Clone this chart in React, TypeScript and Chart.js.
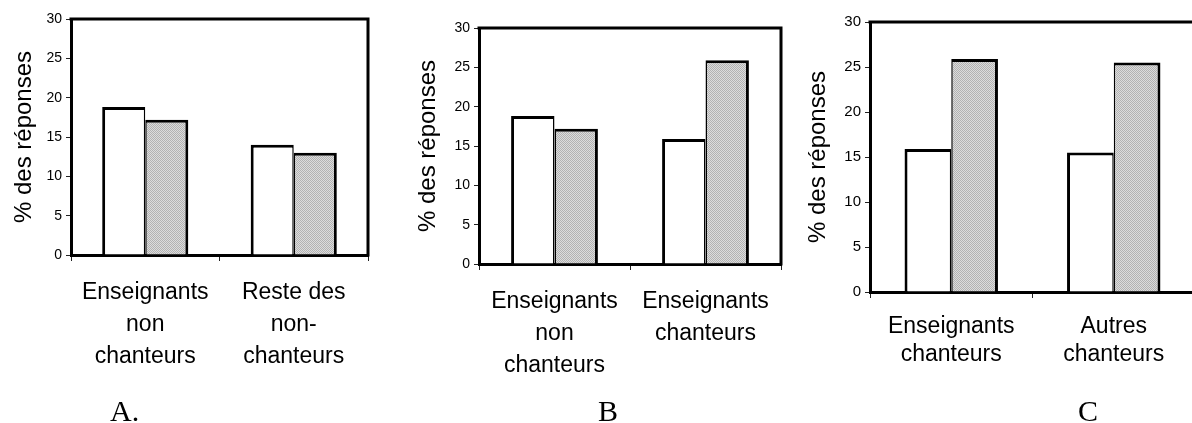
import React, { useEffect, useRef } from "react";
import { Chart, registerables } from "chart.js";

Chart.register(...registerables);

// ---------- data ----------
const labelsA = [["Enseignants", "non", "chanteurs"], ["Reste des", "non-", "chanteurs"]];
const whiteA = [18.8, 14.0];
const greyA = [17.2, 13.0];

const labelsB = [["Enseignants", "non", "chanteurs"], ["Enseignants", "chanteurs"]];
const whiteB = [18.8, 15.9];
const greyB = [17.2, 25.9];

const labelsC = [["Enseignants", "chanteurs"], ["Autres", "chanteurs"]];
const whiteC = [15.9, 15.5];
const greyC = [25.9, 25.5];

const yMin = 0;
const yMax = 30;
const yStep = 5;
const yTitle = "% des réponses";
const captions = ["A.", "B", "C"];

// ---------- layout / style ----------
const SANS = "'Liberation Sans', Arial, sans-serif";
const SERIF = "'Liberation Serif', 'Times New Roman', serif";

type Cfg = {
  left: number; width: number; height: number; yw: number;
  top: number; bottom: number; right: number; titlePad: number;
  tickFont: number; lh: number; labelPad: number; catPct: number;
};

const cfgA: Cfg = { left: 0, width: 385, height: 423, yw: 71, top: 19, bottom: 255, right: 368, titlePad: 10, tickFont: 14, lh: 31.7 / 23, labelPad: 16, catPct: 0.58 };
const cfgB: Cfg = { left: 400, width: 395, height: 423, yw: 79, top: 28, bottom: 264, right: 781, titlePad: 14, tickFont: 14, lh: 31.7 / 23, labelPad: 16, catPct: 0.575 };
const cfgC: Cfg = { left: 790, width: 410, height: 423, yw: 80, top: 22, bottom: 292, right: 1195, titlePad: 14, tickFont: 15, lh: 28.5 / 23, labelPad: 14, catPct: 0.575 };

function makePattern(): CanvasPattern | string {
  const c = document.createElement("canvas");
  c.width = 2;
  c.height = 2;
  const g = c.getContext("2d");
  if (!g) return "#c6c6c6";
  g.fillStyle = "#dcdcdc";
  g.fillRect(0, 0, 2, 2);
  g.fillStyle = "#b2b2b2";
  g.fillRect(0, 0, 1, 1);
  g.fillRect(1, 1, 1, 1);
  return g.createPattern(c, "repeat") || "#c6c6c6";
}

const framePlugin = {
  id: "frame",
  afterDatasetsDraw(chart: any) {
    const { ctx, chartArea } = chart;
    const { left, top, right, bottom } = chartArea;
    ctx.save();
    ctx.strokeStyle = "#000";
    ctx.lineWidth = 3;
    ctx.lineCap = "square";
    ctx.beginPath();
    ctx.moveTo(left, top);
    ctx.lineTo(right, top);
    ctx.lineTo(right, bottom);
    ctx.stroke();
    ctx.restore();
  },
};

function Panel({ cfg, labels, white, grey }: { cfg: Cfg; labels: string[][]; white: number[]; grey: number[] }) {
  const ref = useRef<HTMLCanvasElement>(null);
  useEffect(() => {
    const canvas = ref.current;
    if (!canvas) return;
    const chart = new Chart(canvas, {
      type: "bar",
      data: {
        labels,
        datasets: [
          {
            data: white,
            backgroundColor: "#ffffff",
            borderColor: "#000000",
            borderWidth: { top: 3, left: 3, right: 1.5, bottom: 0 },
            borderSkipped: "start",
          },
          {
            data: grey,
            backgroundColor: makePattern(),
            borderColor: "#000000",
            borderWidth: { top: 3, left: 1.5, right: 3, bottom: 0 },
            borderSkipped: "start",
          },
        ],
      },
      options: {
        responsive: false,
        animation: false,
        devicePixelRatio: 1,
        layout: { padding: { left: 0, top: cfg.top, right: cfg.left + cfg.width - cfg.right, bottom: 0 } },
        plugins: {
          legend: { display: false },
          tooltip: { enabled: false },
          title: { display: false },
        },
        datasets: { bar: { categoryPercentage: cfg.catPct, barPercentage: 1 } },
        scales: {
          x: {
            type: "category",
            offset: true,
            grid: { offset: true, drawOnChartArea: false, tickLength: 6, color: "#222", lineWidth: 1 },
            border: { display: true, color: "#000", width: 3 },
            ticks: {
              color: "#000",
              font: { family: SANS, size: 23, lineHeight: cfg.lh },
              padding: cfg.labelPad,
              maxRotation: 0,
              minRotation: 0,
              autoSkip: false,
            },
            afterFit: (s: any) => { s.height = cfg.height - cfg.bottom; },
          },
          y: {
            min: yMin,
            max: yMax,
            ticks: { stepSize: yStep, color: "#000", font: { family: SANS, size: cfg.tickFont }, padding: 4 },
            grid: { drawOnChartArea: false, tickLength: 5, color: "#222", lineWidth: 1 },
            border: { display: true, color: "#000", width: 3 },
            title: {
              display: true,
              text: yTitle,
              color: "#000",
              font: { family: SANS, size: 24, lineHeight: 1.2 },
              padding: { top: cfg.titlePad, bottom: 0 },
            },
            afterFit: (s: any) => { s.width = cfg.yw; },
          },
        },
      } as any,
      plugins: [framePlugin],
    });
    return () => chart.destroy();
  }, []);
  return (
    <canvas
      ref={ref}
      width={cfg.width}
      height={cfg.height}
      style={{ position: "absolute", left: cfg.left, top: 0, width: cfg.width, height: cfg.height }}
    />
  );
}

const captionPos = [110, 598, 1078];

export default function App() {
  return (
    <div style={{ position: "absolute", left: 0, top: 0, width: 1192, height: 423, overflow: "hidden", background: "#fff" }}>
      <Panel cfg={cfgA} labels={labelsA} white={whiteA} grey={greyA} />
      <Panel cfg={cfgB} labels={labelsB} white={whiteB} grey={greyB} />
      <Panel cfg={cfgC} labels={labelsC} white={whiteC} grey={greyC} />
      {captions.map((c, i) => (
        <div
          key={c}
          style={{ position: "absolute", left: captionPos[i], top: 396, font: `30px ${SERIF}`, lineHeight: "30px", color: "#000", whiteSpace: "nowrap" }}
        >
          {c}
        </div>
      ))}
    </div>
  );
}
